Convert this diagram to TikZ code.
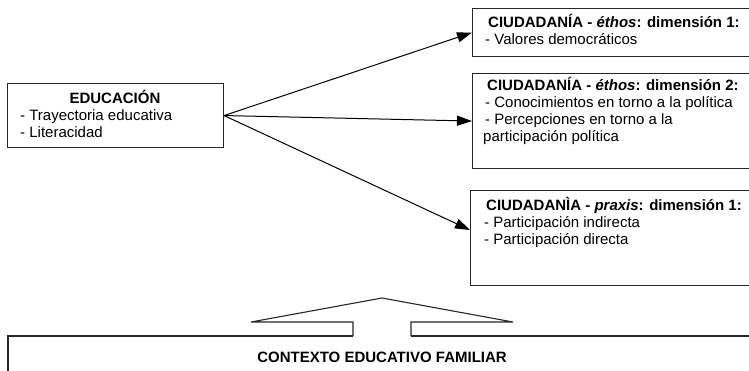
\documentclass[tikz,border=0pt]{standalone}
\usepackage{fontspec}
\setmainfont{Liberation Sans}
\usetikzlibrary{arrows.meta}
\begin{document}
\begin{tikzpicture}[x=1pt,y=-1pt,
  box/.style={draw=black!85, line width=1.1pt, rectangle, anchor=north west, inner sep=0},
  txt/.style={anchor=base west, inner sep=0, font=\fontsize{15}{17}\selectfont},
  ctxt/.style={anchor=base, inner sep=0, font=\fontsize{15}{17}\selectfont},
  conn/.style={line width=1pt, -{Triangle[length=15pt,width=10pt]}}]
\useasboundingbox (0,0) rectangle (749,370);
\clip (0,0) rectangle (749,370);
% boxes
\node[box, minimum width=216, minimum height=64] (edu) at (7,83) {};
\node[box, minimum width=300, minimum height=48] (b1) at (472,8) {};
\node[box, minimum width=300, minimum height=95] (b2) at (472,73) {};
\node[box, minimum width=300, minimum height=95] (b3) at (470,190) {};
\coordinate (t3) at (470,230);
% texts
\node[ctxt] (eh) at (115,103) {\textbf{EDUCACIÓN}};
\node[txt] (e1) at (20,120) {- Trayectoria educativa};
\node[txt] (e2) at (20,137) {- Literacidad};
\node[txt] (h1) at (488,27) {\textbf{CIUDADANÍA - \textit{éthos}: dimensión 1:}};
\node[txt] (l11) at (485,44) {- Valores democráticos};
\node[txt] (h2) at (487,90) {\textbf{CIUDADANÍA - \textit{éthos}: dimensión 2:}};
\node[txt] (l21) at (485,107) {- Conocimientos en torno a la política};
\node[txt] (l22) at (485,124) {- Percepciones en torno a la};
\node[txt] (l23) at (483,141) {participación política};
\node[txt] (h3) at (486,210) {\textbf{CIUDADANÌA - \textit{praxis}: dimensión 1:}};
\node[txt] (l31) at (484,227) {- Participación indirecta};
\node[txt] (l32) at (484,244) {- Participación directa};
% connectors
\draw[conn] (edu.east) -- (b1.west);
\draw[conn] (edu.east) -- (b2.west);
\draw[conn] (edu.east) -- (t3);
% bottom context box and big arrow
\draw[draw=black!85, line width=1.1pt] (353,336) -- (8,336) -- (8,380);
\draw[draw=black!85, line width=1.1pt] (411,336) -- (760,336);
\draw[draw=black!85, line width=1.1pt, line join=miter]
  (353,336) -- (353,322) -- (251,322) -- (382,298) -- (513,322) -- (411,322) -- (411,336);
\node[ctxt] (ctx) at (382,362) {\textbf{CONTEXTO EDUCATIVO FAMILIAR}};
\end{tikzpicture}
\end{document}
